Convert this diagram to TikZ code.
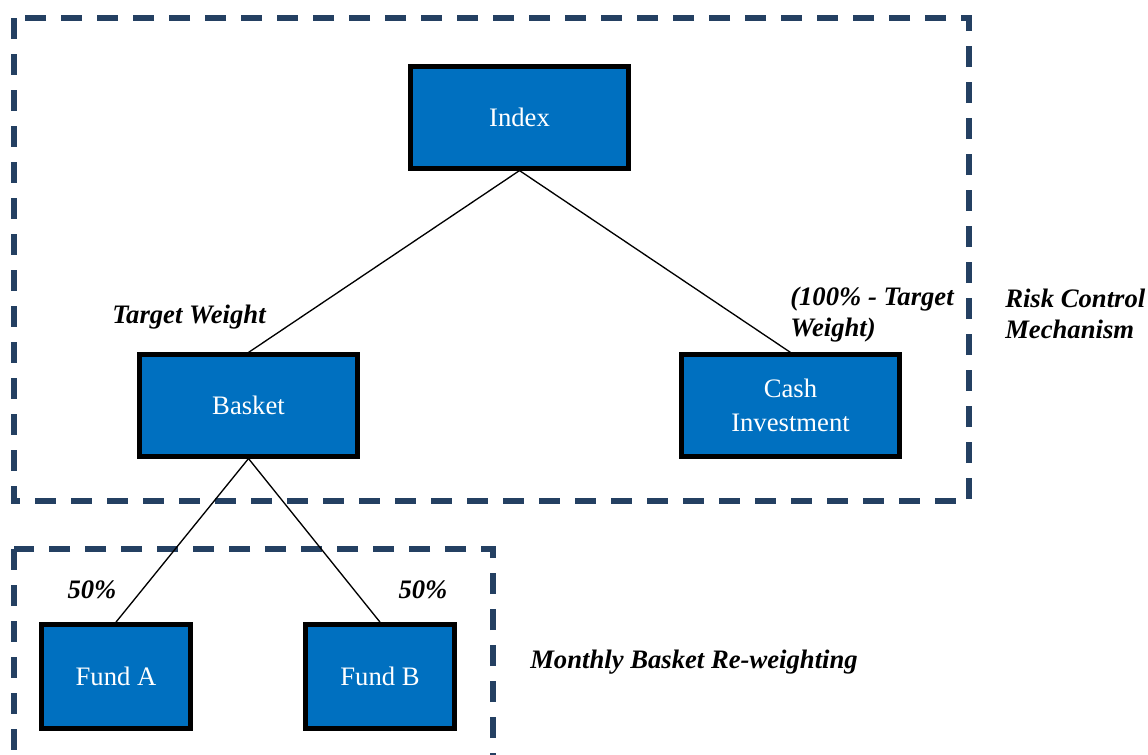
\documentclass[tikz,border=0pt]{standalone}
\usepackage{fontspec}
\setmainfont{Liberation Serif}
\usetikzlibrary{positioning}
\definecolor{boxblue}{RGB}{0,112,192}
\definecolor{framenavy}{RGB}{36,64,98}
\newcommand{\diagfont}{\fontsize{20}{23}\selectfont}
\tikzset{
  blockbox/.style={draw=black,line width=3.6pt,fill=boxblue,text=white,
    minimum width=163pt,minimum height=76pt,align=center,inner sep=2pt},
  fundbox/.style={blockbox,minimum width=112pt,minimum height=78pt},
  dashframe/.style={draw=framenavy,line width=3.8pt,dash pattern=on 16pt off 11pt},
  lbl/.style={font=\diagfont\bfseries\itshape,inner sep=0pt},
  link/.style={line width=1pt}
}
\begin{document}
\begin{tikzpicture}[x=0.75pt,y=-0.75pt,font=\diagfont]
    \useasboundingbox (0,0) rectangle (1148,754);
    \draw[dashframe] (14,18) rectangle (969,501);
    \draw[dashframe] (14,549) rectangle (493,800);
    \node[blockbox] (index) at (519.5,117.5) {Index};
    \node[blockbox] (basket) at (248.5,405.5) {Basket};
    \node[blockbox] (cash) at (790.5,405.5) {Cash\\[2pt]Investment};
    \node[fundbox] (funda) at (116,676.5) {Fund A};
    \node[fundbox] (fundb) at (380,676.5) {Fund B};
    \draw[link] (index.south) -- (basket.north);
    \draw[link] (index.south) -- (cash.north);
    \draw[link] (basket.south) -- (funda.north);
    \draw[link] (basket.south) -- (fundb.north);
    \node[lbl] (tw) at (189,317) {Target Weight};
    \node[lbl,anchor=north west,align=left] (rest) at (790,287) {(100\% - Target\\Weight)};
    \node[lbl,anchor=north west,align=left] (risk) at (1005,289) {Risk Control\\Mechanism};
    \node[lbl] (wa) at (92,590) {50\%};
    \node[lbl] (wb) at (423,590) {50\%};
    \node[lbl,anchor=west] (monthly) at (530,662) {Monthly Basket Re-weighting};
\end{tikzpicture}
\end{document}
